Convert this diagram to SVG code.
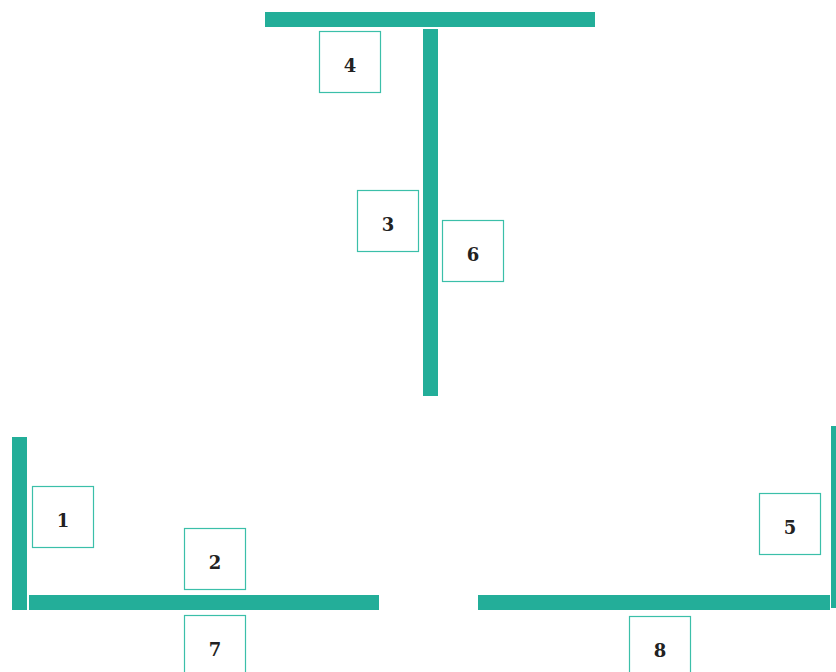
<svg xmlns="http://www.w3.org/2000/svg" width="836" height="672" viewBox="0 0 836 672">
<style>
.wall{fill:#23ae99}
.box rect{fill:#fff;stroke:#3bbfa9;stroke-width:1.2}
.box text{font-family:"DejaVu Serif",serif;font-weight:bold;font-size:18px;fill:#222;text-anchor:middle;dominant-baseline:central}
</style>
<rect width="836" height="672" fill="#fff"/>
<g id="connectors">
<rect class="wall" x="265" y="12" width="330" height="15"/>
<rect class="wall" x="423" y="29" width="15" height="367"/>
<rect class="wall" x="12" y="437" width="15" height="173"/>
<rect class="wall" x="29" y="595" width="350" height="15"/>
<rect class="wall" x="478" y="595" width="352" height="15"/>
<rect class="wall" x="831" y="426" width="5" height="182"/>
</g>
<g id="n4" class="box"><rect x="319.5" y="31.5" width="61" height="61"/><text x="350" y="65">4</text></g>
<g id="n3" class="box"><rect x="357.5" y="190.5" width="61" height="61"/><text x="388" y="224">3</text></g>
<g id="n6" class="box"><rect x="442.5" y="220.5" width="61" height="61"/><text x="473" y="254">6</text></g>
<g id="n1" class="box"><rect x="32.5" y="486.5" width="61" height="61"/><text x="63" y="520">1</text></g>
<g id="n2" class="box"><rect x="184.5" y="528.5" width="61" height="61"/><text x="215" y="562">2</text></g>
<g id="n7" class="box"><rect x="184.5" y="615.5" width="61" height="61"/><text x="215" y="649">7</text></g>
<g id="n5" class="box"><rect x="759.5" y="493.5" width="61" height="61"/><text x="790" y="527">5</text></g>
<g id="n8" class="box"><rect x="629.5" y="616.5" width="61" height="61"/><text x="660" y="650">8</text></g>
</svg>
